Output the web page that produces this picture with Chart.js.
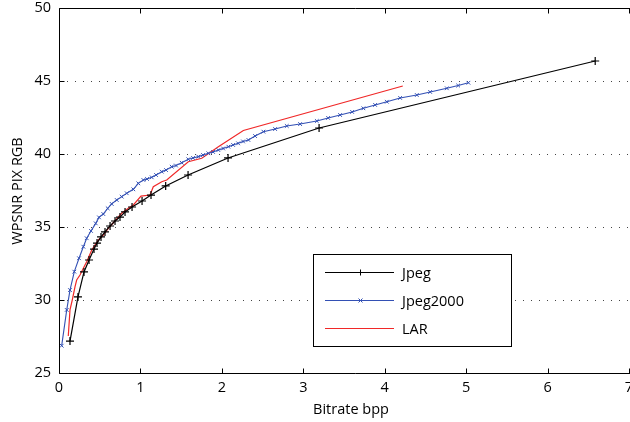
<!DOCTYPE html>
<html>
<head>
<meta charset="utf-8">
<script src="https://cdn.jsdelivr.net/npm/chart.js@4/dist/chart.umd.min.js"></script>
<style>
html,body{margin:0;padding:0;background:#fff;overflow:hidden;width:630px;height:422px;}
#wrap{position:absolute;left:0;top:0;width:650px;height:422px;}
</style>
</head>
<body>
<div id="wrap"><canvas id="c" width="650" height="422"></canvas></div>
<script>
// ---- data (bitrate in bpp, WPSNR in dB) ----
const xTicks = [0,1,2,3,4,5,6,7];
const yTicks = [25,30,35,40,45,50];

const jpegX = [0.135,0.233,0.307,0.369,0.43,0.467,0.516,0.565,0.627,0.688,0.749,0.811,0.897,1.02,1.13,1.31,1.585,2.076,3.194,6.585];
const jpegY = [27.19,30.21,31.92,32.74,33.49,33.90,34.32,34.66,35.07,35.41,35.68,36.03,36.37,36.78,37.19,37.81,38.56,39.73,41.78,46.37];

const j2kX = [0.033,0.095,0.135,0.188,0.246,0.299,0.34,0.393,0.451,0.491,0.544,0.598,0.647,0.709,0.77,0.832,0.913,0.974,1.036,1.081,1.139,1.192,1.262,1.315,1.384,1.437,1.507,1.588,1.646,1.711,1.769,1.834,1.892,1.957,2.015,2.08,2.138,2.20,2.26,2.326,2.408,2.51,2.654,2.797,2.961,3.166,3.305,3.452,3.60,3.738,3.882,4.026,4.189,4.394,4.558,4.763,4.902,5.028];
const j2kY = [26.87,29.32,30.68,31.94,32.86,33.65,34.23,34.73,35.25,35.66,35.89,36.28,36.58,36.85,37.08,37.31,37.58,37.99,38.22,38.29,38.40,38.56,38.79,38.90,39.13,39.21,39.40,39.64,39.73,39.82,39.93,40.05,40.14,40.27,40.38,40.50,40.62,40.73,40.86,40.96,41.23,41.53,41.71,41.92,42.05,42.26,42.47,42.67,42.88,43.13,43.36,43.58,43.84,44.04,44.25,44.50,44.69,44.88];

const larX = [0.114,0.135,0.163,0.197,0.217,0.258,0.299,0.34,0.402,0.483,0.544,0.606,0.667,0.77,0.851,0.913,1.007,1.118,1.158,1.262,1.323,1.588,1.753,1.957,2.264,4.222];
const larY = [27.53,29.32,30.0,30.91,31.37,31.71,32.17,32.62,33.42,34.11,34.45,34.91,35.29,35.94,36.28,36.51,37.12,37.19,37.76,38.10,38.22,39.47,39.71,40.50,41.61,44.66];

const seriesNames = ['Jpeg','Jpeg2000','LAR'];
const xTitle = 'Bitrate bpp';
const yTitle = 'WPSNR PIX RGB';

const COL_JPEG = '#000000', COL_J2K = '#3350b4', COL_LAR = '#f02828';
const FONT = '"Open Sans", sans-serif';

const pts = (xs, ys) => xs.map((x,i)=>({x:x, y:ys[i]}));

const framePlugin = {
  id:'frame',
  beforeDatasetsDraw(chart){
    const {ctx, chartArea:a, scales:{x,y}} = chart;
    ctx.save();
    ctx.strokeStyle = '#444';
    ctx.lineWidth = 1;
    ctx.setLineDash([1,7]);
    y.ticks.forEach(t=>{
      if (t.value<=y.min || t.value>=y.max) return;
      const py = Math.round(y.getPixelForValue(t.value))+0.5;
      ctx.beginPath(); ctx.moveTo(a.left, py); ctx.lineTo(a.right+20, py); ctx.stroke();
    });
    ctx.restore();
  },
  afterDraw(chart){
    const {ctx, chartArea:a, scales:{x,y}} = chart;
    ctx.save();
    ctx.strokeStyle = '#000';
    ctx.lineWidth = 1;
    ctx.setLineDash([]);
    const L = Math.round(a.left)+0.5, T = Math.round(a.top)+0.5, B = Math.round(a.bottom)+0.5;
    ctx.beginPath();
    ctx.moveTo(L, T); ctx.lineTo(a.right+30, T);
    ctx.moveTo(L, T); ctx.lineTo(L, B);
    ctx.moveTo(L, B); ctx.lineTo(a.right+30, B);
    ctx.stroke();
    ctx.beginPath();
    x.ticks.forEach(t=>{
      const px = Math.round(x.getPixelForValue(t.value))+0.5;
      ctx.moveTo(px, B); ctx.lineTo(px, B-5);
      ctx.moveTo(px, T); ctx.lineTo(px, T+5);
    });
    y.ticks.forEach(t=>{
      const py = Math.round(y.getPixelForValue(t.value))+0.5;
      ctx.moveTo(L, py); ctx.lineTo(L+5, py);
    });
    ctx.stroke();
    ctx.fillStyle = '#000';
    ctx.font = '14.5px ' + FONT;
    ctx.textAlign = 'center';
    ctx.textBaseline = 'middle';
    ctx.fillText(xTitle, 351, 410);
    ctx.save();
    ctx.translate(18, 191);
    ctx.rotate(-Math.PI/2);
    ctx.fillText(yTitle, 0, 0);
    ctx.restore();
    const bx = 313.5, by = 254.5, bw = 198, bh = 92;
    ctx.fillStyle = '#fff';
    ctx.fillRect(bx, by, bw, bh);
    ctx.strokeStyle = '#000';
    ctx.lineWidth = 1;
    ctx.strokeRect(bx, by, bw, bh);
    const rows = [
      {name:seriesNames[0], col:COL_JPEG, mk:'plus', y:272.5},
      {name:seriesNames[1], col:COL_J2K, mk:'x', y:300.5},
      {name:seriesNames[2], col:COL_LAR, mk:null, y:328.5}
    ];
    rows.forEach(r=>{
      ctx.strokeStyle = r.col;
      ctx.lineWidth = 1;
      ctx.beginPath(); ctx.moveTo(325, r.y); ctx.lineTo(394, r.y); ctx.stroke();
      if (r.mk==='plus'){
        ctx.beginPath(); ctx.moveTo(360.5, r.y-3); ctx.lineTo(360.5, r.y+3); ctx.stroke();
      } else if (r.mk==='x'){
        ctx.beginPath(); ctx.moveTo(358.5, r.y-2); ctx.lineTo(362.5, r.y+2);
        ctx.moveTo(358.5, r.y+2); ctx.lineTo(362.5, r.y-2); ctx.stroke();
      }
      ctx.fillStyle = '#000';
      ctx.textAlign = 'left';
      ctx.font = '14.5px ' + FONT;
      ctx.fillText(r.name, 402, r.y+1);
    });
    ctx.restore();
  }
};

new Chart(document.getElementById('c'), {
  type:'line',
  data:{
    datasets:[
      {label:seriesNames[0], data:pts(jpegX,jpegY), borderColor:COL_JPEG, backgroundColor:COL_JPEG,
       borderWidth:1.2, pointStyle:'cross', pointRadius:4, pointBorderWidth:1.2, tension:0, fill:false},
      {label:seriesNames[1], data:pts(j2kX,j2kY), borderColor:COL_J2K, backgroundColor:COL_J2K,
       borderWidth:1.1, pointStyle:'crossRot', pointRadius:2.6, pointBorderWidth:1, tension:0, fill:false},
      {label:seriesNames[2], data:pts(larX,larY), borderColor:COL_LAR, backgroundColor:COL_LAR,
       borderWidth:1.2, pointRadius:0, tension:0, fill:false}
    ]
  },
  options:{
    responsive:false,
    animation:false,
    events:[],
    layout:{padding:{top:8, right:21, left:0, bottom:0}},
    plugins:{legend:{display:false}, tooltip:{enabled:false}, title:{display:false}},
    scales:{
      x:{type:'linear', min:0, max:7,
         afterBuildTicks(s){ s.ticks = xTicks.map(v=>({value:v})); },
         afterFit(s){ s.height = 49; s.paddingLeft = 0; s.paddingRight = 0; },
         grid:{display:false, drawTicks:false}, border:{display:false},
         ticks:{color:'#000', font:{family:FONT, size:14.5}, padding:6, maxRotation:0, autoSkip:false}},
      y:{type:'linear', min:25, max:50,
         afterBuildTicks(s){ s.ticks = yTicks.map(v=>({value:v})); },
         afterFit(s){ s.width = 59; s.paddingTop = 0; s.paddingBottom = 0; },
         grid:{display:false, drawTicks:false}, border:{display:false},
         ticks:{color:'#000', font:{family:FONT, size:14.5}, padding:8, autoSkip:false}}
    }
  },
  plugins:[framePlugin]
});
</script>
</body>
</html>
